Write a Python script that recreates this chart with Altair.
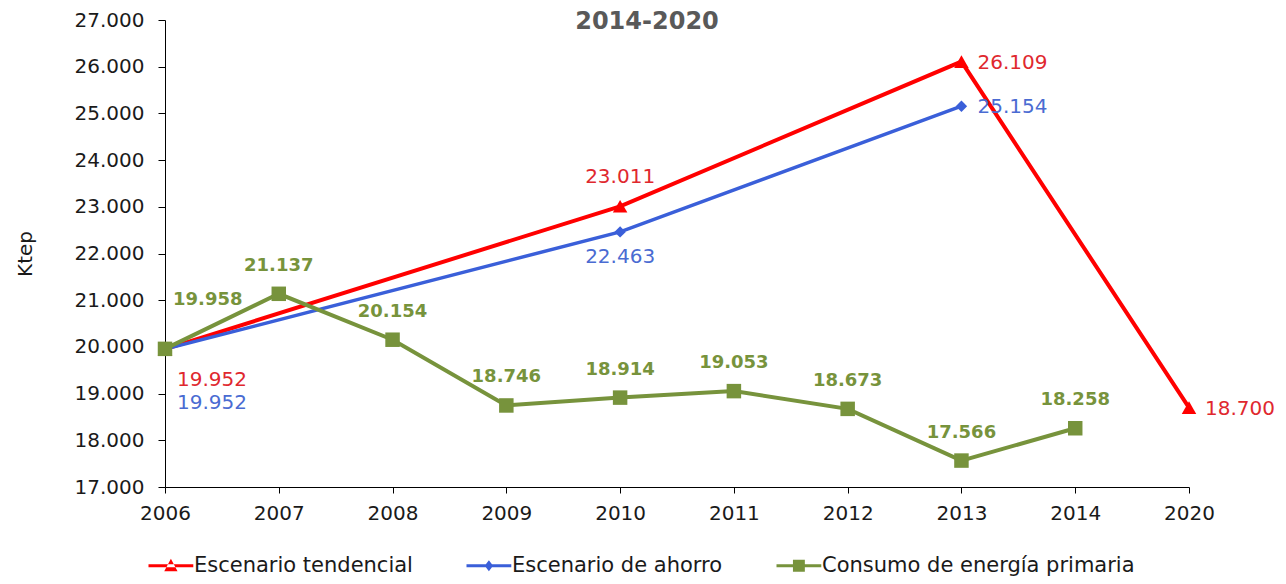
import altair as alt
import pandas as pd

# ---------------- data ----------------
years = ["2006", "2007", "2008", "2009", "2010", "2011", "2012", "2013", "2014", "2020"]
series = ["Escenario tendencial", "Escenario de ahorro", "Consumo de energía primaria"]

tendencial_years = ["2006", "2010", "2013", "2020"]
tendencial_values = [19952, 23011, 26109, 18700]

ahorro_years = ["2006", "2010", "2013"]
ahorro_values = [19952, 22463, 25154]

consumo_years = ["2006", "2007", "2008", "2009", "2010", "2011", "2012", "2013", "2014"]
consumo_values = [19958, 21137, 20154, 18746, 18914, 19053, 18673, 17566, 18258]

y_ticks = [17000, 18000, 19000, 20000, 21000, 22000, 23000, 24000, 25000, 26000, 27000]
title_text = "2014-2020"
y_title = "Ktep"

# ---------------- styles ----------------
FONT = "DejaVu Sans"
line_colors = ["#FF0000", "#3A5FD9", "#77933C"]
label_colors = ["#E0282E", "#4A6BD2", "#77933C"]
marker_shapes = ["triangle-up", "diamond", "square"]
marker_sizes = [210, 130, 210]
line_widths = [4, 3.5, 4]
label_weights = ["normal", "normal", "bold"]
label_sizes = [20, 20, 18]

# legend symbols: line segment + marker (custom paths)
legend_line = "M-1,-0.21L5.4,-0.21L5.4,0.21L-1,0.21Z"
legend_paths = [
    legend_line + " M1.25,0.8L3.15,0.8L2.2,-1Z",
    legend_line + " M2.2,-0.8L2.8,0L2.2,0.8L1.6,0Z",
    legend_line + " M1.35,-0.85L3.05,-0.85L3.05,0.85L1.35,0.85Z",
]

# label placement per point (default: above)
placement_of = {
    ("Escenario tendencial", "2006"): "below1",
    ("Escenario de ahorro", "2006"): "below2",
    ("Consumo de energía primaria", "2006"): "upright",
    ("Escenario de ahorro", "2010"): "below",
    ("Escenario tendencial", "2013"): "right",
    ("Escenario de ahorro", "2013"): "right",
    ("Escenario tendencial", "2020"): "right",
}
pos_styles = {
    "above": dict(align="center", dx=0, dy=-23),
    "upright": dict(align="left", dx=8, dy=-44),
    "below1": dict(align="left", dx=12, dy=37),
    "below2": dict(align="left", dx=12, dy=60),
    "below": dict(align="center", dx=0, dy=31),
    "right": dict(align="left", dx=16, dy=7),
}

rows = []
for s, ys, vs in [
    (series[0], tendencial_years, tendencial_values),
    (series[1], ahorro_years, ahorro_values),
    (series[2], consumo_years, consumo_values),
]:
    for y, v in zip(ys, vs):
        rows.append({"serie": s, "year": y, "value": v, "pos": placement_of.get((s, y), "above")})
df = pd.DataFrame(rows)

fmt_expr = "replace(format(datum.value, ',.0f'), ',', '.')"

x_enc = alt.X(
    "year:O",
    scale=alt.Scale(type="point", domain=years, padding=0),
    axis=alt.Axis(
        title=None, labelAngle=0, labelFontSize=20, labelFont=FONT, labelColor="#1a1a1a",
        domainColor="#000000", tickColor="#000000", tickSize=6, labelPadding=10, grid=False,
    ),
)
y_enc = alt.Y(
    "value:Q",
    scale=alt.Scale(domain=[17000, 27000], nice=False, zero=False),
    axis=alt.Axis(
        title=y_title, values=y_ticks, labelExpr=fmt_expr, labelFontSize=20, labelFont=FONT,
        labelColor="#1a1a1a", domainColor="#000000", tickColor="#000000", tickSize=7,
        labelPadding=14, grid=False, titleFont=FONT, titleFontSize=20, titleFontWeight="normal",
        titleColor="#1a1a1a", titlePadding=39,
    ),
)

base = alt.Chart(df).encode(x=x_enc, y=y_enc)

layers = []
for i, s in enumerate(series):
    layers.append(
        base.transform_filter(alt.datum.serie == s).mark_line(
            color=line_colors[i], strokeWidth=line_widths[i]
        )
    )
for i, s in enumerate(series):
    layers.append(
        base.transform_filter(alt.datum.serie == s).mark_point(
            shape=marker_shapes[i], filled=True, size=marker_sizes[i],
            color=line_colors[i], opacity=1, strokeWidth=0,
        )
    )
for i, s in enumerate(series):
    used = sorted(set(df[df.serie == s]["pos"]))
    for p in used:
        st = pos_styles[p]
        layers.append(
            base.transform_filter((alt.datum.serie == s) & (alt.datum.pos == p))
            .transform_calculate(label=fmt_expr)
            .mark_text(
                align=st["align"], dx=st["dx"], dy=st["dy"], baseline="alphabetic",
                font=FONT, fontSize=label_sizes[i], fontWeight=label_weights[i],
                color=label_colors[i],
            )
            .encode(text="label:N")
        )

# chart title (sits at the very top, as in the original)
title_layer = (
    alt.Chart(pd.DataFrame({"t": [title_text]}))
    .mark_text(font=FONT, fontSize=24, fontWeight="bold", color="#595959",
               align="center", baseline="top")
    .encode(text="t:N", x=alt.value(482), y=alt.value(-10))
)
layers.append(title_layer)

legend = alt.Legend(
    title=None, orient="none", legendX=-20, legendY=535, direction="horizontal",
    symbolSize=196, symbolStrokeWidth=0, labelFont=FONT, labelFontSize=21,
    labelColor="#1a1a1a", labelOffset=28, columnPadding=50, labelLimit=0,
    gridAlign="each",
)
carrier = (
    base.transform_filter("false")
    .mark_point(filled=True, opacity=1)
    .encode(
        color=alt.Color("serie:N", scale=alt.Scale(domain=series, range=line_colors), legend=legend),
        shape=alt.Shape("serie:N", scale=alt.Scale(domain=series, range=legend_paths), legend=legend),
    )
)
layers.append(carrier)

chart = (
    alt.layer(*layers)
    .properties(
        width=1024,
        height=467,
        autosize=alt.AutoSizeParams(type="none"),
        padding={"left": 157, "top": 12, "right": 89, "bottom": 89},
        background="white",
    )
    .configure_view(strokeWidth=0)
)

chart.save("out.html", embed_options={"renderer": "svg", "actions": False})
